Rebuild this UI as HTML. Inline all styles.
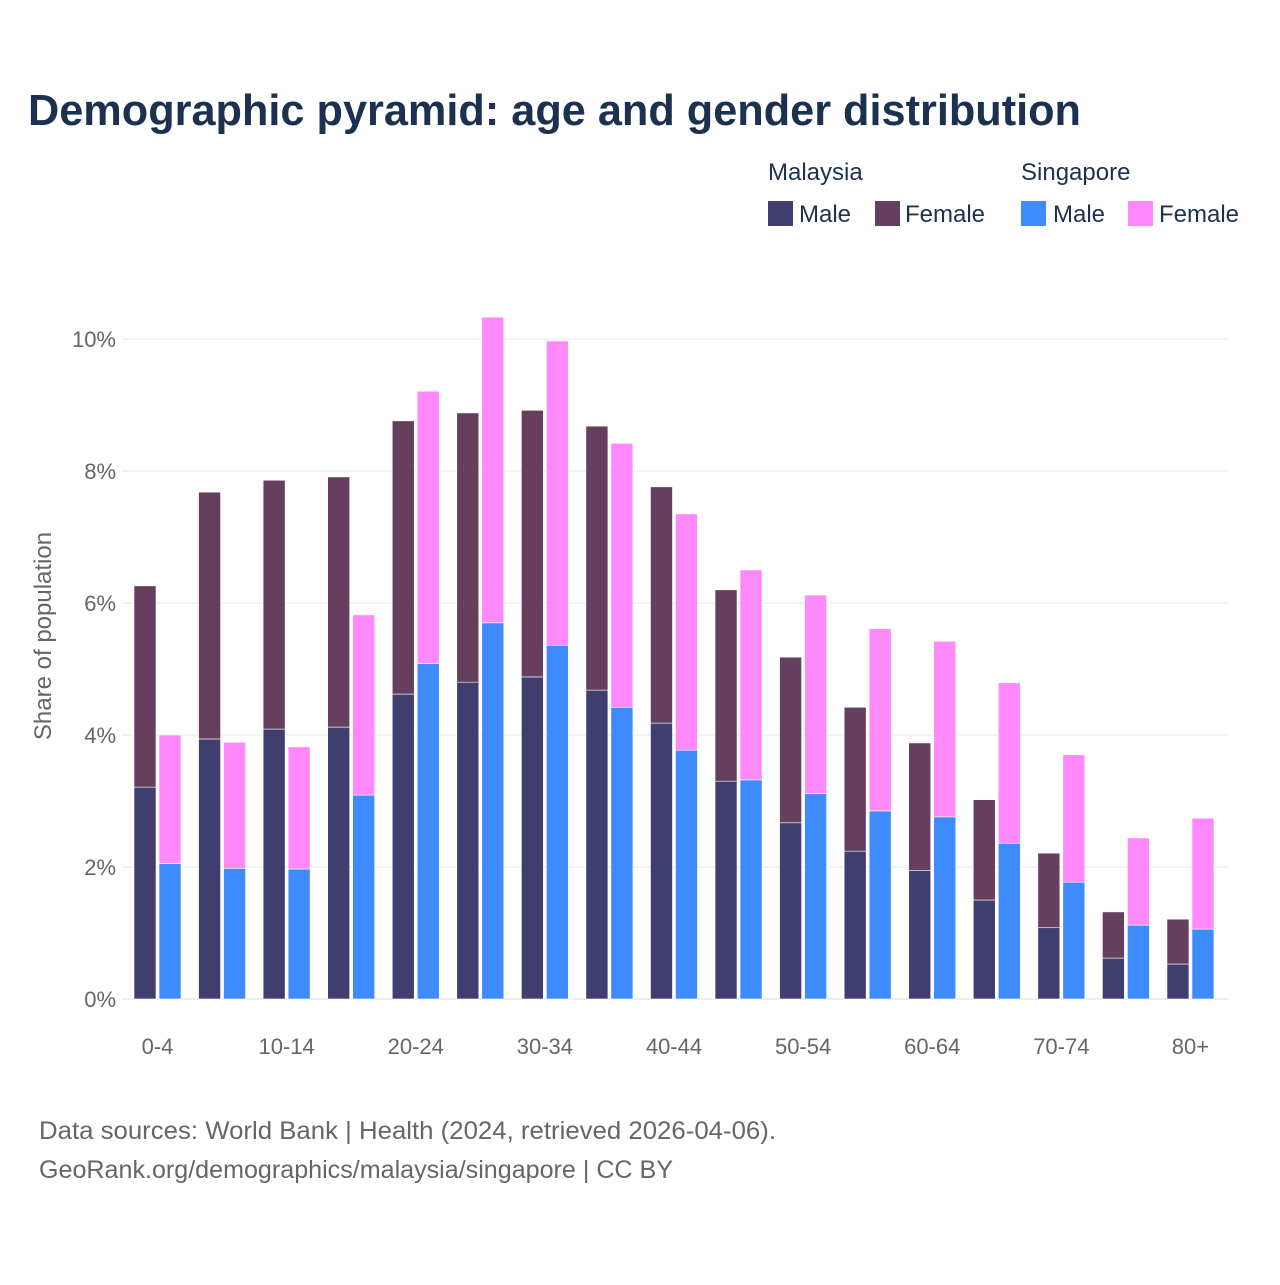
<!DOCTYPE html>
<html><head><meta charset="utf-8">
<style>
body{margin:0;background:#fff;}
svg text{font-family:"Liberation Sans",sans-serif;}
</style></head>
<body>
<svg id="chart" width="1280" height="1280" xmlns="http://www.w3.org/2000/svg">
<rect width="1280" height="1280" fill="#fff"/>
<text x="28" y="125" font-size="44" font-weight="bold" fill="#1c3050" textLength="1053" lengthAdjust="spacingAndGlyphs">Demographic pyramid: age and gender distribution</text>
<g font-size="24" fill="#1c3050">
<text x="768" y="180">Malaysia</text>
<text x="1021" y="180">Singapore</text>
<g><rect x="768" y="201" width="25" height="25" fill="#403d6f"/><text x="799" y="222">Male</text></g>
<g><rect x="875" y="201" width="25" height="25" fill="#663f5f"/><text x="905" y="222">Female</text></g>
<g><rect x="1021" y="201" width="25" height="25" fill="#3d8bff"/><text x="1053" y="222">Male</text></g>
<g><rect x="1128" y="201" width="25" height="25" fill="#ff88fa"/><text x="1159" y="222">Female</text></g>
</g>
<g id="grid"></g>
<g id="yticks" font-size="22" fill="#666" text-anchor="end"></g>
<text transform="translate(51,636) rotate(-90)" text-anchor="middle" font-size="24" fill="#666">Share of population</text>
<g id="bars"></g>
<g id="xticks" font-size="22" fill="#666" text-anchor="middle"></g>
<g font-size="25" fill="#666">
<text x="39" y="1139" textLength="737" lengthAdjust="spacingAndGlyphs">Data sources: World Bank | Health (2024, retrieved 2026-04-06).</text>
<text x="39" y="1178" textLength="634" lengthAdjust="spacingAndGlyphs">GeoRank.org/demographics/malaysia/singapore | CC BY</text>
</g>
</svg>
<script>
const categories=["0-4","5-9","10-14","15-19","20-24","25-29","30-34","35-39","40-44","45-49","50-54","55-59","60-64","65-69","70-74","75-79","80+"];
const myMale=[3.21,3.94,4.09,4.12,4.62,4.80,4.88,4.68,4.18,3.30,2.67,2.24,1.95,1.50,1.08,0.62,0.53];
const myFemale=[3.05,3.74,3.77,3.79,4.14,4.08,4.04,4.00,3.58,2.90,2.51,2.18,1.93,1.52,1.13,0.70,0.68];
const sgMale=[2.05,1.98,1.97,3.09,5.08,5.70,5.36,4.42,3.77,3.32,3.11,2.85,2.76,2.36,1.77,1.12,1.06];
const sgFemale=[1.95,1.91,1.85,2.73,4.13,4.63,4.61,4.00,3.58,3.18,3.01,2.76,2.66,2.43,1.93,1.32,1.68];
const yTicks=[0,2,4,6,8,10];
const NS="http://www.w3.org/2000/svg";
const y0=999,pxPer=66,xStart=157.5,step=64.56,bw=22;
const y=v=>y0-v*pxPer;
const xc=i=>xStart+i*step;
function mk(tag,attrs,parent){const e=document.createElementNS(NS,tag);for(const k in attrs)e.setAttribute(k,attrs[k]);parent.appendChild(e);return e;}
const grid=document.getElementById('grid'),yt=document.getElementById('yticks'),bars=document.getElementById('bars'),xt=document.getElementById('xticks');
yTicks.forEach(t=>{
 const l=mk('line',{x1:122,x2:1228,y1:y(t),y2:y(t),stroke:t===0?'#ddd':'#e8e8e8','stroke-width':1},grid);
 
 
 const tx=mk('text',{x:116,y:y(t)+8},yt);tx.textContent=t+'%';
 
 
});
categories.forEach((c,i)=>{
 const segs=[[xc(i)-bw-1.5,myMale[i],0,'#403d6f','bar-malaysia-male'],[xc(i)-bw-1.5,myFemale[i],myMale[i],'#663f5f','bar-malaysia-female'],
  [xc(i)+1.5,sgMale[i],0,'#3d8bff','bar-singapore-male'],[xc(i)+1.5,sgFemale[i],sgMale[i],'#ff88fa','bar-singapore-female']];
 segs.forEach(s=>{
  const r=mk('rect',{x:s[0],y:y(s[2]+s[1]),width:bw,height:s[1]*pxPer,fill:s[3],stroke:'#fff','stroke-width':0.6},bars);
  
  
 });
 if(i%2===0){const tx=mk('text',{x:xc(i),y:1054},xt);tx.textContent=c;
  
  }
});
</script>
</body></html>
